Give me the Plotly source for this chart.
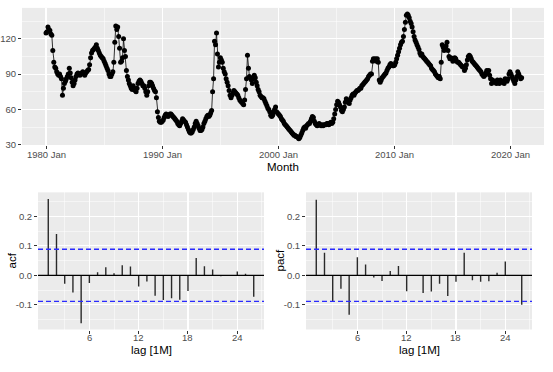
import pandas as pd
import plotly.graph_objects as go

# ---- data ----
values_1980s = [
    125, 126, 130, 128, 127, 124, 123, 110, 100, 96, 95, 92,
    90, 89, 90, 88, 86, 72, 78, 82, 84, 86, 88, 90,
    95, 91, 87, 83, 80, 82, 85, 88, 90, 91, 90, 89,
    90, 91, 92, 90, 89, 91, 92, 93, 94, 98, 104, 108,
    110, 111, 112, 113, 115, 112, 110, 108, 106, 105, 104, 103,
    101, 99, 97, 95, 93, 90, 88, 88, 90, 92, 100, 117,
    131, 128, 130, 122, 112, 100, 101, 104, 120, 110, 105, 93,
    88, 85, 82, 80, 78, 77, 80, 78, 76, 75, 78, 82,
    84, 85, 84, 82, 80, 80, 78, 75, 72, 75, 80, 83,
    83, 82, 80, 78, 76, 75, 70, 58, 53, 50, 49, 49,
]
values_1990s = [
    50, 51, 53, 55, 56, 55, 54, 55, 56, 56, 55, 54,
    53, 52, 51, 50, 48, 47, 46, 48, 50, 52, 51, 50,
    49, 47, 45, 43, 41, 40, 40, 41, 43, 45, 48, 50,
    48, 46, 44, 42, 42, 43, 45, 48, 50, 52, 54, 55,
    54, 55, 57, 59, 75, 86, 118, 115, 125, 107, 96, 100,
    104, 102, 100, 95, 92, 90, 86, 83, 80, 76, 72, 70,
    72, 74, 76, 75, 74, 73, 72, 70, 68, 67, 66, 65,
    64, 68, 77, 86, 106, 95, 88, 87, 85, 82, 86, 89,
    87, 83, 80, 77, 75, 72, 71, 70, 70, 69, 67, 65,
    63, 61, 60, 58, 55, 54, 55, 58, 60, 62, 58, 57,
]
values_2000s = [
    56, 55, 54, 52, 51, 50, 48, 47, 46, 45, 44, 43,
    42, 41, 40, 39, 38, 38, 37, 37, 36, 35, 36, 38,
    40, 42, 44, 45, 44, 46, 47, 48, 48, 50, 52, 54,
    53, 50, 48, 47, 46, 47, 48, 47, 46, 47, 46, 47,
    47, 47, 48, 48, 47, 48, 49, 48, 49, 52, 56, 60,
    64, 67, 66, 64, 62, 59, 58, 60, 62, 66, 69, 68,
    66, 65, 68, 70, 72, 73, 72, 74, 75, 76, 76, 77,
    78, 78, 80, 81, 82, 83, 84, 85, 86, 88, 89, 90,
    90, 101, 103, 102, 103, 101, 103, 100, 85, 83, 85, 87,
    88, 89, 90, 91, 93, 95, 96, 98, 99, 98, 97, 97,
]
values_2010s = [
    98, 100, 103, 106, 109, 112, 115, 117, 118, 122, 128, 134,
    140, 141, 140, 138, 135, 133, 130, 126, 122, 119, 117, 115,
    113, 111, 108, 106, 107, 105, 104, 103, 102, 101, 100, 99,
    98, 97, 95, 94, 93, 92, 90, 89, 88, 87, 88, 86,
    100, 115, 113, 110, 112, 114, 117, 110, 105, 103, 104, 103,
    101, 103, 104, 103, 101, 100, 100, 99, 98, 97, 96, 96,
    93, 95, 98, 102, 105, 106, 105, 103, 101, 100, 99, 98,
    97, 96, 95, 94, 93, 92, 90, 89, 88, 89, 91, 93,
    91, 93, 89, 86, 82, 85, 84, 83, 84, 82, 85, 84,
    82, 85, 83, 84, 83, 82, 86, 85, 84, 86, 90, 92,
]
values_2020 = [90, 88, 86, 84, 82, 85, 88, 92, 90, 88, 86, 87]

series = values_1980s + values_1990s + values_2000s + values_2010s + values_2020
months = pd.date_range("1980-01-01", periods=len(series), freq="MS")

year_ticks = ["1980-01-01", "1990-01-01", "2000-01-01", "2010-01-01", "2020-01-01"]
year_labels = ["1980 Jan", "1990 Jan", "2000 Jan", "2010 Jan", "2020 Jan"]
year_minor = ["1985-01-01", "1995-01-01", "2005-01-01", "2015-01-01"]

lags = list(range(1, 27))
lag_ticks = [6, 12, 18, 24]
acf_values = [0.259, 0.140, -0.029, -0.058, -0.163, -0.026, 0.010, 0.027, 0.007,
              0.034, 0.030, -0.038, -0.021, -0.069, -0.084, -0.078, -0.083,
              -0.053, 0.059, 0.031, 0.020, -0.003, -0.001, 0.013, 0.005, -0.073]
pacf_values = [0.257, 0.077, -0.087, -0.046, -0.134, 0.061, 0.037, -0.007, -0.019,
               0.015, 0.032, -0.054, -0.002, -0.060, -0.055, -0.029, -0.070,
               -0.022, 0.077, -0.017, -0.022, -0.020, 0.009, 0.047, 0.001, -0.100]
conf = 1.96 / (len(series) ** 0.5)

# ---- figure ----
W, H = 553, 372
PANEL = "#EBEBEB"
TICKC = "#4D4D4D"
FONT = "Liberation Sans, Arial, sans-serif"

fig = go.Figure()

fig.add_trace(go.Scatter(
    x=months, y=series, mode="lines+markers",
    line=dict(color="black", width=0.8),
    marker=dict(color="black", size=5),
    xaxis="x", yaxis="y", showlegend=False, hoverinfo="skip"))


def spikes(vals):
    xs, ys = [], []
    for l, v in zip(lags, vals):
        xs += [l, l, None]
        ys += [0, v, None]
    return xs, ys


for vals, xa, ya in [(acf_values, "x2", "y2"), (pacf_values, "x3", "y3")]:
    xs, ys = spikes(vals)
    fig.add_trace(go.Scatter(x=xs, y=ys, mode="lines",
                             line=dict(color="#2a2a2a", width=1.4),
                             xaxis=xa, yaxis=ya, showlegend=False, hoverinfo="skip"))

shapes = []
for xa, ya in [("x2", "y2"), ("x3", "y3")]:
    shapes.append(dict(type="line", xref=f"{xa} domain", yref=ya, x0=0, x1=1, y0=0, y1=0,
                       line=dict(color="black", width=1.2)))
    for c in (conf, -conf):
        shapes.append(dict(type="line", xref=f"{xa} domain", yref=ya, x0=0, x1=1, y0=c, y1=c,
                           line=dict(color="#2a2aff", width=1.4, dash="5px,3px")))


def px_x(a, b):
    return [a / W, b / W]


def px_y(top, bottom):
    return [1 - bottom / H, 1 - top / H]


lo = min(series) - 0.05 * (max(series) - min(series))
hi = max(series) + 0.05 * (max(series) - min(series))

common = dict(showline=False, zeroline=False, ticks="outside", ticklen=3,
              tickwidth=1, tickcolor="#333333", gridcolor="white", gridwidth=1.1,
              tickfont=dict(size=9.5, color=TICKC, family=FONT))
xcommon = dict(common, showticklabels=False)
minor_style = dict(showgrid=True, gridcolor="white", gridwidth=0.5, ticks="")

acf_range = [-0.184, 0.2816]
lag_range = [-0.25, 27.25]

fig.update_layout(
    width=W, height=H,
    margin=dict(l=0, r=0, t=0, b=0),
    paper_bgcolor="white", plot_bgcolor=PANEL,
    font=dict(family=FONT),
    shapes=shapes,
    xaxis=dict(domain=px_x(22, 544), anchor="y", type="date",
               range=["1977-12-07", "2022-11-04"],
               tickvals=year_ticks,
               minor=dict(tickvals=year_minor, **minor_style), **xcommon),
    yaxis=dict(domain=px_y(8, 147), anchor="x", range=[lo, hi],
               tickvals=[30, 60, 90, 120],
               minor=dict(tickvals=[45, 75, 105, 135], **minor_style), **common),
    xaxis2=dict(domain=px_x(38, 264), anchor="y2", range=lag_range,
                tickvals=lag_ticks,
                minor=dict(tickvals=[3, 9, 15, 21, 27], **minor_style), **xcommon),
    yaxis2=dict(domain=px_y(195, 334), anchor="x2", range=acf_range,
                tickvals=[-0.1, 0.0, 0.1, 0.2], ticktext=["-0.1", "0.0", "0.1", "0.2"],
                minor=dict(tickvals=[-0.15, -0.05, 0.05, 0.15, 0.25], **minor_style), **common),
    xaxis3=dict(domain=px_x(306, 532), anchor="y3", range=lag_range,
                tickvals=lag_ticks,
                minor=dict(tickvals=[3, 9, 15, 21, 27], **minor_style), **xcommon),
    yaxis3=dict(domain=px_y(195, 334), anchor="x3", range=acf_range,
                tickvals=[-0.1, 0.0, 0.1, 0.2], ticktext=["-0.1", "0.0", "0.1", "0.2"],
                minor=dict(tickvals=[-0.15, -0.05, 0.05, 0.15, 0.25], **minor_style), **common),
)

# x tick labels placed as text right under the tick marks
tick_font = dict(size=9.5, color=TICKC, family=FONT)
for v, t in zip(year_ticks, year_labels):
    fig.add_annotation(x=v, xref="x", y=1 - 157 / H, yref="paper", text=t,
                       showarrow=False, xanchor="center", yanchor="middle", font=tick_font)
for xa in ("x2", "x3"):
    for v in lag_ticks:
        fig.add_annotation(x=v, xref=xa, y=1 - 342 / H, yref="paper", text=str(v),
                           showarrow=False, xanchor="center", yanchor="middle", font=tick_font)

title_font = dict(size=11.5, color="black", family=FONT)
annotations = [
    dict(text="Month", x=283 / W, y=1 - 169 / H),
    dict(text="lag [1M]", x=151 / W, y=1 - 355 / H),
    dict(text="lag [1M]", x=419 / W, y=1 - 355 / H),
    dict(text="acf", x=12 / W, y=1 - 264 / H, textangle=-90),
    dict(text="pacf", x=280 / W, y=1 - 264 / H, textangle=-90),
]
for a in annotations:
    fig.add_annotation(xref="paper", yref="paper", showarrow=False,
                       xanchor="center", yanchor="middle", font=title_font, **a)

fig.write_html("out.html",
               config={"displayModeBar": False, "staticPlot": True},
               post_script="document.body.style.margin='0';document.body.style.overflow='hidden';")
